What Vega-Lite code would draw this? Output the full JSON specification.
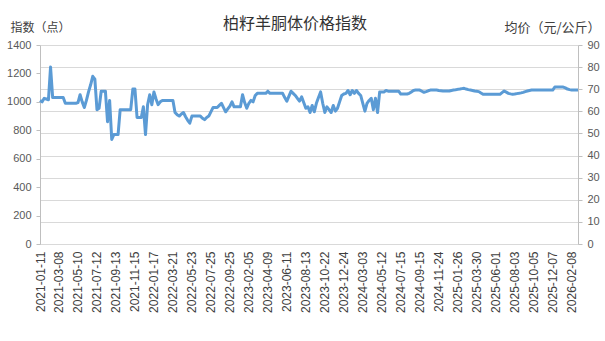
{
"$schema": "https://vega.github.io/schema/vega-lite/v6.json",
"autosize": {"type": "none"},
"width": 538,
"height": 199,
"padding": {"left": 40, "top": 45, "right": 27, "bottom": 97},
"background": "white",
"title": {"text": "柏籽羊胴体价格指数", "fontSize": 16, "font": "Noto Sans CJK SC", "fontWeight": "normal", "color": "#333333", "anchor": "middle", "dx": -14, "offset": -11},
"config": {"view": {"stroke": null}},
"data": {"values": [
{"date":"2021-01-11","v":1010},{"date":"2021-01-14","v":1000},{"date":"2021-01-18","v":1025},{"date":"2021-01-25","v":1020},{"date":"2021-02-01","v":1015},{"date":"2021-02-08","v":1245},{"date":"2021-02-22","v":1030},{"date":"2021-03-01","v":1030},{"date":"2021-03-04","v":1030},{"date":"2021-03-08","v":1030},
{"date":"2021-03-15","v":1030},{"date":"2021-03-22","v":1030},{"date":"2021-03-29","v":990},{"date":"2021-04-05","v":990},{"date":"2021-04-12","v":990},{"date":"2021-04-19","v":990},{"date":"2021-04-26","v":990},{"date":"2021-05-03","v":990},{"date":"2021-05-10","v":995},
{"date":"2021-05-17","v":1050},{"date":"2021-05-24","v":1000},{"date":"2021-05-31","v":960},{"date":"2021-06-07","v":1010},{"date":"2021-06-14","v":1070},{"date":"2021-06-21","v":1120},{"date":"2021-06-28","v":1180},{"date":"2021-07-05","v":1160},{"date":"2021-07-12","v":945},
{"date":"2021-07-19","v":955},{"date":"2021-07-26","v":1075},{"date":"2021-08-02","v":1075},{"date":"2021-08-09","v":1075},{"date":"2021-08-16","v":860},{"date":"2021-08-23","v":1010},{"date":"2021-08-30","v":735},{"date":"2021-09-06","v":770},{"date":"2021-09-13","v":770},
{"date":"2021-09-20","v":770},{"date":"2021-09-27","v":945},{"date":"2021-10-04","v":945},{"date":"2021-10-11","v":945},{"date":"2021-10-18","v":945},{"date":"2021-10-25","v":945},{"date":"2021-11-01","v":945},{"date":"2021-11-08","v":1090},{"date":"2021-11-15","v":1090},
{"date":"2021-11-22","v":890},{"date":"2021-11-29","v":890},{"date":"2021-12-06","v":890},{"date":"2021-12-13","v":965},{"date":"2021-12-20","v":770},{"date":"2021-12-27","v":980},{"date":"2022-01-03","v":1050},{"date":"2022-01-10","v":980},{"date":"2022-01-17","v":1070},
{"date":"2022-01-24","v":1020},{"date":"2022-01-31","v":980},{"date":"2022-02-07","v":1000},{"date":"2022-02-14","v":1010},{"date":"2022-02-21","v":1010},{"date":"2022-02-28","v":1010},{"date":"2022-03-07","v":1010},{"date":"2022-03-14","v":1010},{"date":"2022-03-21","v":1010},
{"date":"2022-03-28","v":925},{"date":"2022-04-04","v":910},{"date":"2022-04-11","v":900},{"date":"2022-04-18","v":915},{"date":"2022-04-25","v":925},{"date":"2022-05-02","v":895},{"date":"2022-05-09","v":870},{"date":"2022-05-16","v":850},{"date":"2022-05-23","v":900},
{"date":"2022-05-30","v":900},{"date":"2022-06-06","v":900},{"date":"2022-06-13","v":900},{"date":"2022-06-20","v":900},{"date":"2022-06-27","v":885},{"date":"2022-07-04","v":875},{"date":"2022-07-11","v":890},{"date":"2022-07-18","v":900},{"date":"2022-07-25","v":930},
{"date":"2022-08-01","v":960},{"date":"2022-08-08","v":960},{"date":"2022-08-15","v":960},{"date":"2022-08-22","v":975},{"date":"2022-08-29","v":990},{"date":"2022-09-05","v":960},{"date":"2022-09-12","v":930},{"date":"2022-09-18","v":950},{"date":"2022-09-25","v":970},
{"date":"2022-10-09","v":1000},{"date":"2022-10-23","v":965},{"date":"2022-11-06","v":965},{"date":"2022-11-20","v":965},{"date":"2022-12-04","v":965},{"date":"2022-12-18","v":1050},{"date":"2023-01-08","v":995},{"date":"2023-01-22","v":955},{"date":"2023-02-05","v":990},
{"date":"2023-02-12","v":1010},{"date":"2023-02-19","v":1000},{"date":"2023-02-26","v":1045},{"date":"2023-03-05","v":1060},{"date":"2023-03-12","v":1060},{"date":"2023-03-19","v":1060},{"date":"2023-03-26","v":1060},{"date":"2023-04-02","v":1060},{"date":"2023-04-09","v":1075},
{"date":"2023-04-16","v":1060},{"date":"2023-04-23","v":1060},{"date":"2023-04-30","v":1060},{"date":"2023-05-07","v":1060},{"date":"2023-05-14","v":1060},{"date":"2023-05-21","v":1060},{"date":"2023-05-28","v":1060},{"date":"2023-06-04","v":1030},{"date":"2023-06-11","v":1005},
{"date":"2023-06-18","v":1040},{"date":"2023-06-25","v":1075},{"date":"2023-07-02","v":1060},{"date":"2023-07-09","v":1045},{"date":"2023-07-16","v":1025},{"date":"2023-07-23","v":1005},{"date":"2023-07-30","v":1035},{"date":"2023-08-06","v":995},{"date":"2023-08-13","v":955},
{"date":"2023-08-20","v":965},{"date":"2023-08-27","v":925},{"date":"2023-09-03","v":975},{"date":"2023-09-10","v":930},{"date":"2023-09-17","v":990},{"date":"2023-09-24","v":1030},{"date":"2023-10-08","v":1070},{"date":"2023-10-15","v":990},{"date":"2023-10-22","v":925},
{"date":"2023-10-29","v":965},{"date":"2023-11-05","v":945},{"date":"2023-11-12","v":925},{"date":"2023-11-19","v":975},{"date":"2023-11-26","v":935},{"date":"2023-12-03","v":955},{"date":"2023-12-10","v":1000},{"date":"2023-12-17","v":1045},{"date":"2023-12-24","v":1055},
{"date":"2023-12-31","v":1060},{"date":"2024-01-07","v":1080},{"date":"2024-01-14","v":1050},{"date":"2024-01-21","v":1080},{"date":"2024-01-28","v":1060},{"date":"2024-02-04","v":1080},{"date":"2024-02-18","v":1060},{"date":"2024-02-25","v":1045},{"date":"2024-03-03","v":990},
{"date":"2024-03-10","v":935},{"date":"2024-03-17","v":990},{"date":"2024-03-24","v":1010},{"date":"2024-03-31","v":1025},{"date":"2024-04-07","v":945},{"date":"2024-04-14","v":1025},{"date":"2024-04-28","v":925},{"date":"2024-05-05","v":1070},{"date":"2024-05-12","v":1070},
{"date":"2024-05-19","v":1070},{"date":"2024-05-26","v":1080},{"date":"2024-06-02","v":1075},{"date":"2024-06-09","v":1075},{"date":"2024-06-16","v":1075},{"date":"2024-06-23","v":1075},{"date":"2024-06-30","v":1075},{"date":"2024-07-07","v":1075},{"date":"2024-07-15","v":1055},
{"date":"2024-07-22","v":1055},{"date":"2024-07-29","v":1055},{"date":"2024-08-05","v":1055},{"date":"2024-08-12","v":1060},{"date":"2024-08-19","v":1070},{"date":"2024-08-26","v":1080},{"date":"2024-09-02","v":1083},{"date":"2024-09-09","v":1083},{"date":"2024-09-15","v":1083},
{"date":"2024-09-22","v":1075},{"date":"2024-09-29","v":1067},{"date":"2024-10-13","v":1072},{"date":"2024-10-20","v":1078},{"date":"2024-10-27","v":1083},{"date":"2024-11-03","v":1083},{"date":"2024-11-10","v":1083},{"date":"2024-11-17","v":1083},{"date":"2024-11-24","v":1080},
{"date":"2024-12-01","v":1078},{"date":"2024-12-08","v":1076},{"date":"2024-12-15","v":1076},{"date":"2024-12-22","v":1076},{"date":"2024-12-29","v":1076},{"date":"2025-01-05","v":1080},{"date":"2025-01-12","v":1083},{"date":"2025-01-19","v":1085},{"date":"2025-01-26","v":1088},
{"date":"2025-02-02","v":1090},{"date":"2025-02-09","v":1093},{"date":"2025-02-16","v":1095},{"date":"2025-02-23","v":1090},{"date":"2025-03-02","v":1086},{"date":"2025-03-09","v":1083},{"date":"2025-03-16","v":1080},{"date":"2025-03-23","v":1076},{"date":"2025-03-30","v":1074},
{"date":"2025-04-06","v":1072},{"date":"2025-04-13","v":1062},{"date":"2025-04-20","v":1053},{"date":"2025-04-27","v":1053},{"date":"2025-05-04","v":1053},{"date":"2025-05-11","v":1053},{"date":"2025-05-18","v":1053},{"date":"2025-05-25","v":1053},{"date":"2025-06-01","v":1053},
{"date":"2025-06-08","v":1053},{"date":"2025-06-15","v":1053},{"date":"2025-06-22","v":1065},{"date":"2025-06-29","v":1076},{"date":"2025-07-06","v":1068},{"date":"2025-07-13","v":1060},{"date":"2025-07-20","v":1056},{"date":"2025-07-27","v":1053},{"date":"2025-08-03","v":1055},
{"date":"2025-08-10","v":1058},{"date":"2025-08-17","v":1060},{"date":"2025-08-24","v":1063},{"date":"2025-08-31","v":1067},{"date":"2025-09-07","v":1072},{"date":"2025-09-14","v":1076},{"date":"2025-09-21","v":1080},{"date":"2025-09-28","v":1083},{"date":"2025-10-05","v":1083},
{"date":"2025-10-12","v":1083},{"date":"2025-10-19","v":1083},{"date":"2025-10-26","v":1083},{"date":"2025-11-02","v":1083},{"date":"2025-11-09","v":1083},{"date":"2025-11-16","v":1083},{"date":"2025-11-23","v":1083},{"date":"2025-11-30","v":1083},{"date":"2025-12-07","v":1083},
{"date":"2025-12-14","v":1104},{"date":"2025-12-21","v":1104},{"date":"2025-12-28","v":1104},{"date":"2026-01-04","v":1104},{"date":"2026-01-11","v":1104},{"date":"2026-01-18","v":1098},{"date":"2026-01-25","v":1090},{"date":"2026-02-01","v":1086},{"date":"2026-02-08","v":1083},
{"date":"2026-02-15","v":1083},{"date":"2026-02-22","v":1083},{"date":"2026-03-01","v":1083}
]},
"layer": [
{
"data": {"values": [{}]},
"mark": {"type": "rule", "opacity": 0},
"encoding": {
"y": {"datum": 0, "type": "quantitative", "scale": {"domain": [0, 90], "nice": false, "zero": true},
"axis": {"orient": "right", "values": [0,10,20,30,40,50,60,70,80,90], "format": "d", "grid": true, "gridColor": "#d9d9d9", "gridWidth": 1,
"domainColor": "#bfbfbf", "tickColor": "#bfbfbf", "tickSize": 4, "labelPadding": 5,
"labelFont": "Liberation Sans", "labelFontSize": 11, "labelColor": "#595959",
"title": "均价（元/公斤）", "titleAngle": 0, "titleX": 22, "titleY": -18, "titleAlign": "right", "titleBaseline": "middle",
"titleFont": "Noto Sans CJK SC", "titleFontSize": 13, "titleFontWeight": "normal", "titleColor": "#404040"}}
}
},
{
"mark": {"type": "line", "color": "#5B9BD5", "strokeWidth": 3, "strokeJoin": "round"},
"encoding": {
"x": {"field": "date", "type": "ordinal", "scale": {"type": "point", "padding": 0},
"axis": {"values": ["2021-01-11","2021-03-08","2021-05-10","2021-07-12","2021-09-13","2021-11-15","2022-01-17","2022-03-21","2022-05-23","2022-07-25","2022-09-25","2023-02-05","2023-04-09","2023-06-11","2023-08-13","2023-10-22","2023-12-24","2024-03-03","2024-05-12","2024-07-15","2024-09-15","2024-11-24","2025-01-26","2025-03-30","2025-06-01","2025-08-03","2025-10-05","2025-12-07","2026-02-08"],
"labelAngle": -90, "ticks": false, "labelPadding": 7, "domainColor": "#d9d9d9", "title": null, "grid": false,
"labelFont": "Liberation Sans", "labelFontSize": 12, "labelColor": "#404040"}},
"y": {"field": "v", "type": "quantitative", "scale": {"domain": [0, 1400], "nice": false},
"axis": {"values": [0,200,400,600,800,1000,1200,1400], "format": "d", "grid": false,
"domainColor": "#bfbfbf", "tickColor": "#bfbfbf", "tickSize": 4, "labelPadding": 5,
"labelFont": "Liberation Sans", "labelFontSize": 11, "labelColor": "#595959",
"title": "指数（点）", "titleAngle": 0, "titleX": -30, "titleY": -18, "titleAlign": "left", "titleBaseline": "middle",
"titleFont": "Noto Sans CJK SC", "titleFontSize": 12, "titleFontWeight": "normal", "titleColor": "#404040"}}
}
}
],
"resolve": {"scale": {"y": "independent"}}
}
